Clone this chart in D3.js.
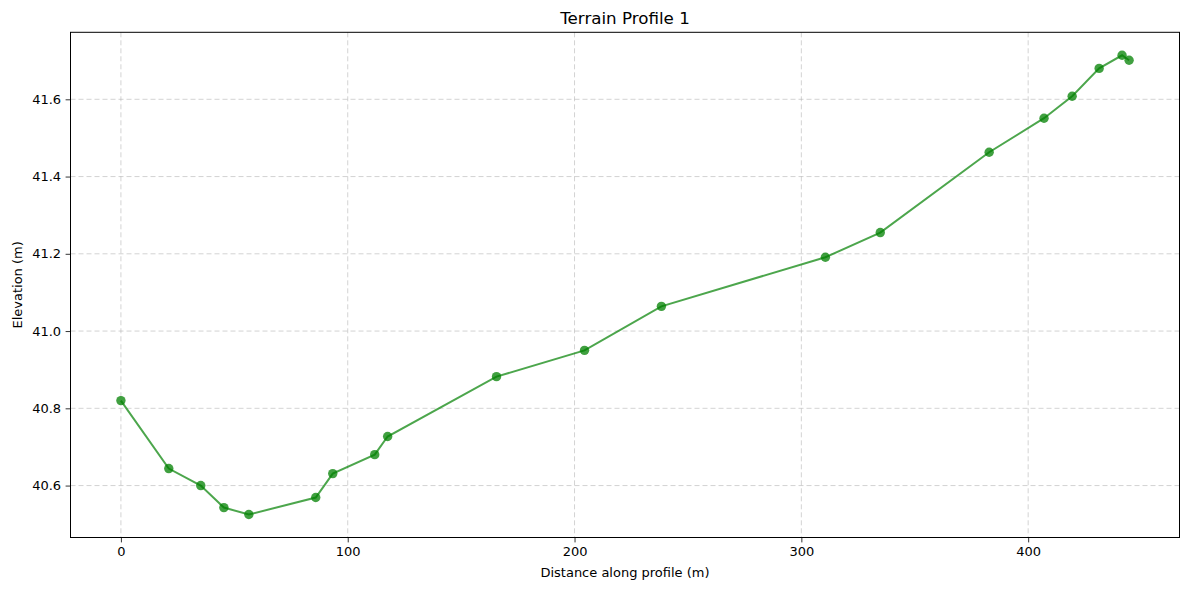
<!DOCTYPE html>
<html><head><meta charset="utf-8">
<script src="https://cdn.jsdelivr.net/npm/d3@7"></script>
<style>body{margin:0;background:#fff}svg{display:block;font-family:"DejaVu Sans",sans-serif}</style>
</head><body><svg id="c" width="1189" height="590"></svg>
<script>
const distance = [0, 21.1, 35.2, 45.4, 56.4, 85.9, 93.4, 111.9, 117.6, 165.6, 204.4, 238.3, 310.6, 334.8, 382.8, 407.0, 419.4, 431.3, 441.4, 444.5];
const elevation = [40.820, 40.644, 40.600, 40.543, 40.525, 40.569, 40.631, 40.680, 40.727, 40.882, 40.950, 41.064, 41.191, 41.255, 41.463, 41.551, 41.608, 41.680, 41.714, 41.701];
const xTicks = [0, 100, 200, 300, 400];
const yTicks = [40.6, 40.8, 41.0, 41.2, 41.4, 41.6];
const title = "Terrain Profile 1";
const xLabel = "Distance along profile (m)";
const yLabel = "Elevation (m)";

const svg = d3.select("#c");
const L = 70.5, R = 1179.5, T = 32.3, B = 537.5;
const xmin = d3.min(distance), xmax = d3.max(distance), xp = (xmax - xmin) * 0.05;
const ymin = d3.min(elevation), ymax = d3.max(elevation), yp = (ymax - ymin) * 0.05;
const x = d3.scaleLinear().domain([xmin - xp, xmax + xp]).range([L, R]);
const y = d3.scaleLinear().domain([ymin - yp, ymax + yp]).range([B, T]);
const data = distance.map((d, i) => [d, elevation[i]]);

// grid
const g = svg.append("g");
g.selectAll(".vx").data(xTicks).join("line").attr("x1", d => x(d)).attr("x2", d => x(d)).attr("y1", T).attr("y2", B)
  .attr("stroke", "#b0b0b0").attr("stroke-opacity", 0.7).attr("stroke-dasharray", "5,3").attr("stroke-width", 0.8);
g.selectAll(".hy").data(yTicks).join("line").attr("y1", d => y(d)).attr("y2", d => y(d)).attr("x1", L).attr("x2", R)
  .attr("stroke", "#b0b0b0").attr("stroke-opacity", 0.7).attr("stroke-dasharray", "5,3").attr("stroke-width", 0.8);

// line and markers
svg.append("path").datum(data).attr("fill", "none").attr("stroke", "#008000").attr("stroke-opacity", 0.7)
  .attr("stroke-width", 2).attr("d", d3.line().x(d => x(d[0])).y(d => y(d[1])));
svg.append("g").selectAll("circle").data(data).join("circle").attr("cx", d => x(d[0])).attr("cy", d => y(d[1]))
  .attr("r", 4.7).attr("fill", "#008000").attr("fill-opacity", 0.75);

// axes
const xa = svg.append("g").attr("transform", `translate(0,${B})`)
  .call(d3.axisBottom(x).tickValues(xTicks).tickFormat(d3.format("d")).tickSize(4.9).tickPadding(4.5));
const ya = svg.append("g").attr("transform", `translate(${L},0)`)
  .call(d3.axisLeft(y).tickValues(yTicks).tickFormat(d3.format(".1f")).tickSize(4.9).tickPadding(4.5));
[xa, ya].forEach(a => {
  a.select(".domain").remove();
  a.selectAll("text").attr("font-family", "DejaVu Sans").attr("font-size", "13px").attr("fill", "#000");
  a.selectAll("line").attr("stroke", "#000").attr("stroke-width", 0.8);
});
svg.append("rect").attr("x", L).attr("y", T).attr("width", R - L).attr("height", B - T)
  .attr("fill", "none").attr("stroke", "#000").attr("stroke-width", 1);

svg.append("text").attr("x", (L + R) / 2).attr("y", 24).attr("text-anchor", "middle").attr("font-size", "16.7px").text(title);
svg.append("text").attr("x", (L + R) / 2).attr("y", 577).attr("text-anchor", "middle").attr("font-size", "13px").text(xLabel);
svg.append("text").attr("transform", `translate(22,${(T + B) / 2}) rotate(-90)`).attr("text-anchor", "middle").attr("font-size", "13px").text(yLabel);
</script></body></html>
